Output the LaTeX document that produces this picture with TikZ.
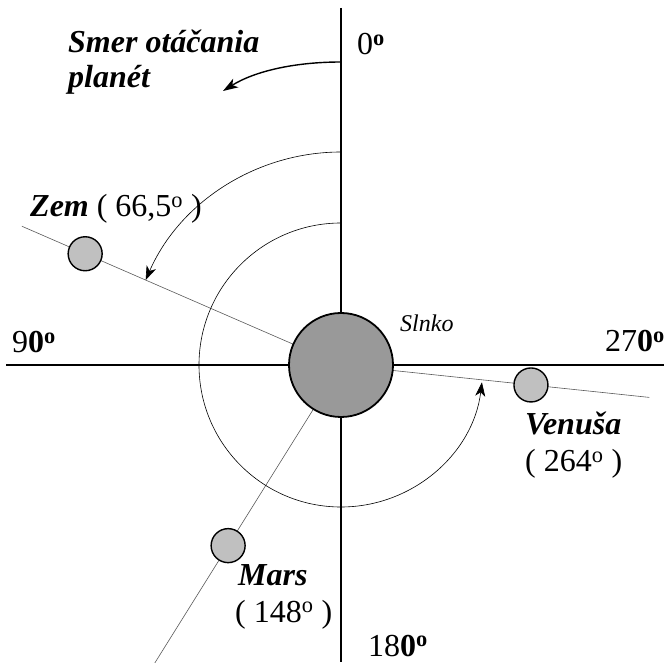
\documentclass[tikz,border=0pt]{standalone}
\usepackage{fontspec}
\setmainfont{Liberation Serif}
\usepackage{tikz}
\usetikzlibrary{arrows.meta,calc,backgrounds}
\definecolor{sungray}{HTML}{999999}
\definecolor{planetgray}{HTML}{C0C0C0}
\tikzset{
    sunbody/.style={circle,draw,line width=1.8pt,fill=sungray,minimum size=104pt,inner sep=0pt},
    planet/.style={circle,draw,line width=1.4pt,fill=planetgray,minimum size=34pt,inner sep=0pt},
    axisline/.style={draw,line width=1.3pt},
    ray/.style={draw,gray!70!black,line width=0.6pt},
    sweep/.style={draw,line width=0.6pt,-{Stealth[length=14pt,width=10pt,inset=4pt]}},
    lbl/.style={anchor=base west,inner sep=0pt,font=\fontsize{32}{37}\selectfont},
}
\newcommand{\bi}[1]{\textbf{\textit{#1}}}
\newcommand{\degbold}{\textbf{0\textsuperscript{o}}}

\begin{document}
\begin{tikzpicture}[x=1pt,y=1pt]
    \useasboundingbox (0,0) rectangle (664,662);
    \node[sunbody] (sun) at (341,297) {};
    \node[planet] (zem) at ([shift={(156.5:279)}]sun.center) {};
    \node[planet] (venusa) at ([shift={(354:191)}]sun.center) {};
    \node[planet] (mars) at ([shift={(238:213)}]sun.center) {};
    \coordinate (up) at (341,654);
    \coordinate (down) at (341,0);
    \coordinate (west) at (6,297);
    \coordinate (east) at (664,297);
    \coordinate (zemend) at ([shift={(156.5:348)}]sun.center);
    \coordinate (venusaend) at ([shift={(354:310)}]sun.center);
    \coordinate (marsend) at ([shift={(238:355)}]sun.center);
    \begin{scope}[on background layer]
        \draw[axisline] (up) -- (down);
        \draw[axisline] (west) -- (east);
        \draw[ray] (sun.center) -- (zemend);
        \draw[ray] (sun.center) -- (venusaend);
        \draw[ray] (sun.center) -- (marsend);
    \end{scope}
    % sweep of the angles
    \draw[sweep] ([shift={(90:213)}]sun.center) arc[start angle=90,end angle=156.5,radius=213];
    \draw[sweep] ([shift={(90:142)}]sun.center) arc[start angle=90,end angle=353,radius=142];
    % direction of rotation
    \coordinate (rotstart) at (341,600);
    \coordinate (rotend) at (223,571);
    \draw[line width=1.4pt,-{Stealth[length=15pt,width=10pt,inset=4pt]}] (rotstart) .. controls (295,600) and (255,591) .. (rotend);
    \node[lbl] (smer) at (68,609) {\bi{Smer otáčania}};
    \node[lbl] (planet) at (68,574) {\bi{planét}};
    % axis labels
    \node[lbl] (deg0) at (357,607) {0\textbf{\textsuperscript{o}}};
    \node[lbl] (deg90) at (12,309) {9\degbold};
    \node[lbl] (deg270) at (605,310) {27\degbold};
    \node[lbl] (deg180) at (368,6) {18\degbold};
    % names
    \node[lbl,font=\fontsize{24}{28}\selectfont\itshape] (slnko) at (400,330) {Slnko};
    \node[lbl] (zemtxt) at (30,445) {\bi{Zem} ( 66,5\textsuperscript{o} )};
    \node[lbl] (venusatxt) at (525,227) {\bi{Venuša}};
    \node[lbl] (venusadeg) at (525,190) {( 264\textsuperscript{o} )};
    \node[lbl] (marstxt) at (238,77) {\bi{Mars}};
    \node[lbl] (marsdeg) at (235,40) {( 148\textsuperscript{o} )};
\end{tikzpicture}
\end{document}
